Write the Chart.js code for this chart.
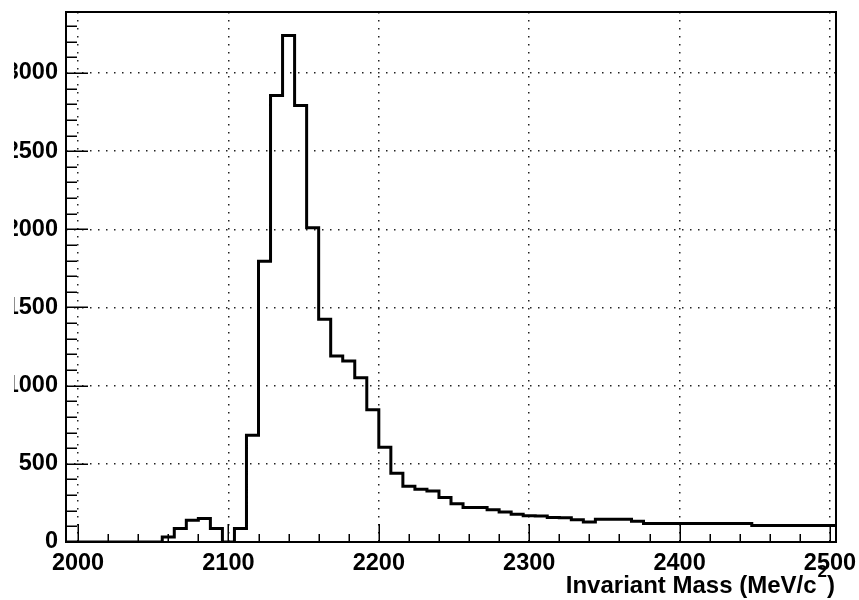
<!DOCTYPE html>
<html lang="en">
<head>
<meta charset="UTF-8">
<title>Invariant Mass</title>
<style>
  html, body { margin: 0; padding: 0; background: #fff; overflow: hidden; }
  #pad { position: absolute; left: 14px; top: 0; width: 845px; height: 600px; overflow: hidden; }
  #mass { position: absolute; left: -28px; top: 0; }
</style>
</head>
<body>
<div id="pad"><canvas id="mass" width="873" height="600"></canvas></div>
<script src="https://cdn.jsdelivr.net/npm/chart.js@4.4.0/dist/chart.umd.min.js"></script>
<script>
// histogram bin edges (MeV/c^2) and entries per bin
const binEdges = [
  1992, 2000, 2008, 2016, 2024, 2032, 2040, 2048, 2056, 2064,
  2072, 2080, 2088, 2096, 2104, 2112, 2120, 2128, 2136, 2144,
  2152, 2160, 2168, 2176, 2184, 2192, 2200, 2208, 2216, 2224,
  2232, 2240, 2248, 2256, 2264, 2272, 2280, 2288, 2296, 2304,
  2312, 2320, 2328, 2336, 2344, 2352, 2360, 2368, 2376, 2384,
  2392, 2400, 2408, 2416, 2424, 2432, 2440, 2448, 2456, 2464,
  2472, 2480, 2488, 2496, 2504
]
const counts = [
  0, 0, 0, 0, 0, 0, 0, 0, 32, 86,
  139, 150, 86, 0, 86, 682, 1795, 2856, 3240, 2792,
  2010, 1424, 1189, 1157, 1051, 846, 606, 440, 357, 337,
  326, 284, 245, 220, 220, 207, 192, 177, 168, 166,
  157, 155, 143, 128, 145, 146, 145, 132, 118, 118,
  118, 118, 118, 118, 118, 118, 118, 106, 106, 106,
  106, 106, 106, 106
]
const xTicks = [2000, 2100, 2200, 2300, 2400, 2500]
const yTicks = [0, 500, 1000, 1500, 2000, 2500, 3000]
const xMin = 1992
const xMax = 2504
const yMax = 3390

// step outline: one point per bin low edge, plus the upper edge of the last bin
const points = counts.map((c, i) => ({ x: binEdges[i], y: c }))
points.push({ x: binEdges[binEdges.length - 1], y: counts[counts.length - 1] })

const labelFont = { family: 'Liberation Sans', size: 23.5, weight: 'bold' }

const frameAndTicks = {
  id: 'frameAndTicks',
  afterDraw(chart) {
    const { ctx, chartArea: a, scales: { x, y } } = chart
    ctx.save()
    ctx.strokeStyle = '#000'
    ctx.lineWidth = 1.5
    ctx.beginPath()
    for (let v = xTicks[0]; v <= xTicks[xTicks.length - 1]; v += 20) {
      const px = Math.round(x.getPixelForValue(v)) + 0.25
      const len = v % 100 === 0 ? 18 : 8
      ctx.moveTo(px, a.bottom)
      ctx.lineTo(px, a.bottom - len)
    }
    for (let v = 0; v <= yMax; v += 100) {
      const py = Math.round(y.getPixelForValue(v)) + 0.25
      const len = v % 500 === 0 ? 22 : 11
      ctx.moveTo(a.left, py)
      ctx.lineTo(a.left + len, py)
    }
    ctx.stroke()

    ctx.lineWidth = 2
    ctx.strokeRect(a.left, a.top, a.right - a.left, a.bottom - a.top)

    // axis title with superscript
    const main = 'Invariant Mass (MeV/c'
    ctx.fillStyle = '#000'
    ctx.textBaseline = 'alphabetic'
    ctx.textAlign = 'left'
    ctx.font = 'bold 24px "Liberation Sans"'
    const mainW = ctx.measureText(main).width
    const closeW = ctx.measureText(')').width
    ctx.font = 'bold 17px "Liberation Sans"'
    const supW = ctx.measureText('2').width
    const right = a.right - 1
    const x0 = right - closeW - supW - mainW - 1
    ctx.font = 'bold 24px "Liberation Sans"'
    ctx.fillText(main, x0, 593)
    ctx.font = 'bold 17px "Liberation Sans"'
    ctx.fillText('2', x0 + mainW + 1, 577)
    ctx.font = 'bold 24px "Liberation Sans"'
    ctx.fillText(')', x0 + mainW + supW + 1, 593)
    ctx.restore()
  }
}

const noPad = scale => {
  scale.paddingLeft = 0
  scale.paddingRight = 0
  scale.paddingTop = 0
  scale.paddingBottom = 0
}

new Chart(document.getElementById('mass'), {
  type: 'line',
  data: {
    datasets: [{
      data: points,
      stepped: 'before',
      borderColor: '#000',
      borderWidth: 3,
      borderJoinStyle: 'miter',
      pointRadius: 0,
      fill: false
    }]
  },
  options: {
    responsive: false,
    animation: false,
    events: [],
    layout: { padding: { top: 12, right: 23, left: 0, bottom: 0 } },
    plugins: { legend: { display: false }, tooltip: { enabled: false } },
    scales: {
      x: {
        type: 'linear',
        min: xMin,
        max: xMax,
        afterBuildTicks: s => { s.ticks = xTicks.map(v => ({ value: v })) },
        afterFit: s => { s.height = 58; noPad(s) },
        ticks: { color: '#000', font: labelFont, padding: 7, maxRotation: 0, autoSkip: false, callback: v => String(v) },
        grid: { color: '#222', lineWidth: 1.5, drawTicks: false },
        border: { display: false, dash: [1.5, 6.5] }
      },
      y: {
        min: 0,
        max: yMax,
        afterBuildTicks: s => { s.ticks = yTicks.map(v => ({ value: v })) },
        afterFit: s => { s.width = 80; noPad(s) },
        ticks: { color: '#000', font: labelFont, padding: 8, autoSkip: false, callback: v => String(v) },
        grid: { color: '#222', lineWidth: 1.5, drawTicks: false },
        border: { display: false, dash: [1.5, 6.5] }
      }
    }
  },
  plugins: [frameAndTicks]
})
</script>
</body>
</html>
